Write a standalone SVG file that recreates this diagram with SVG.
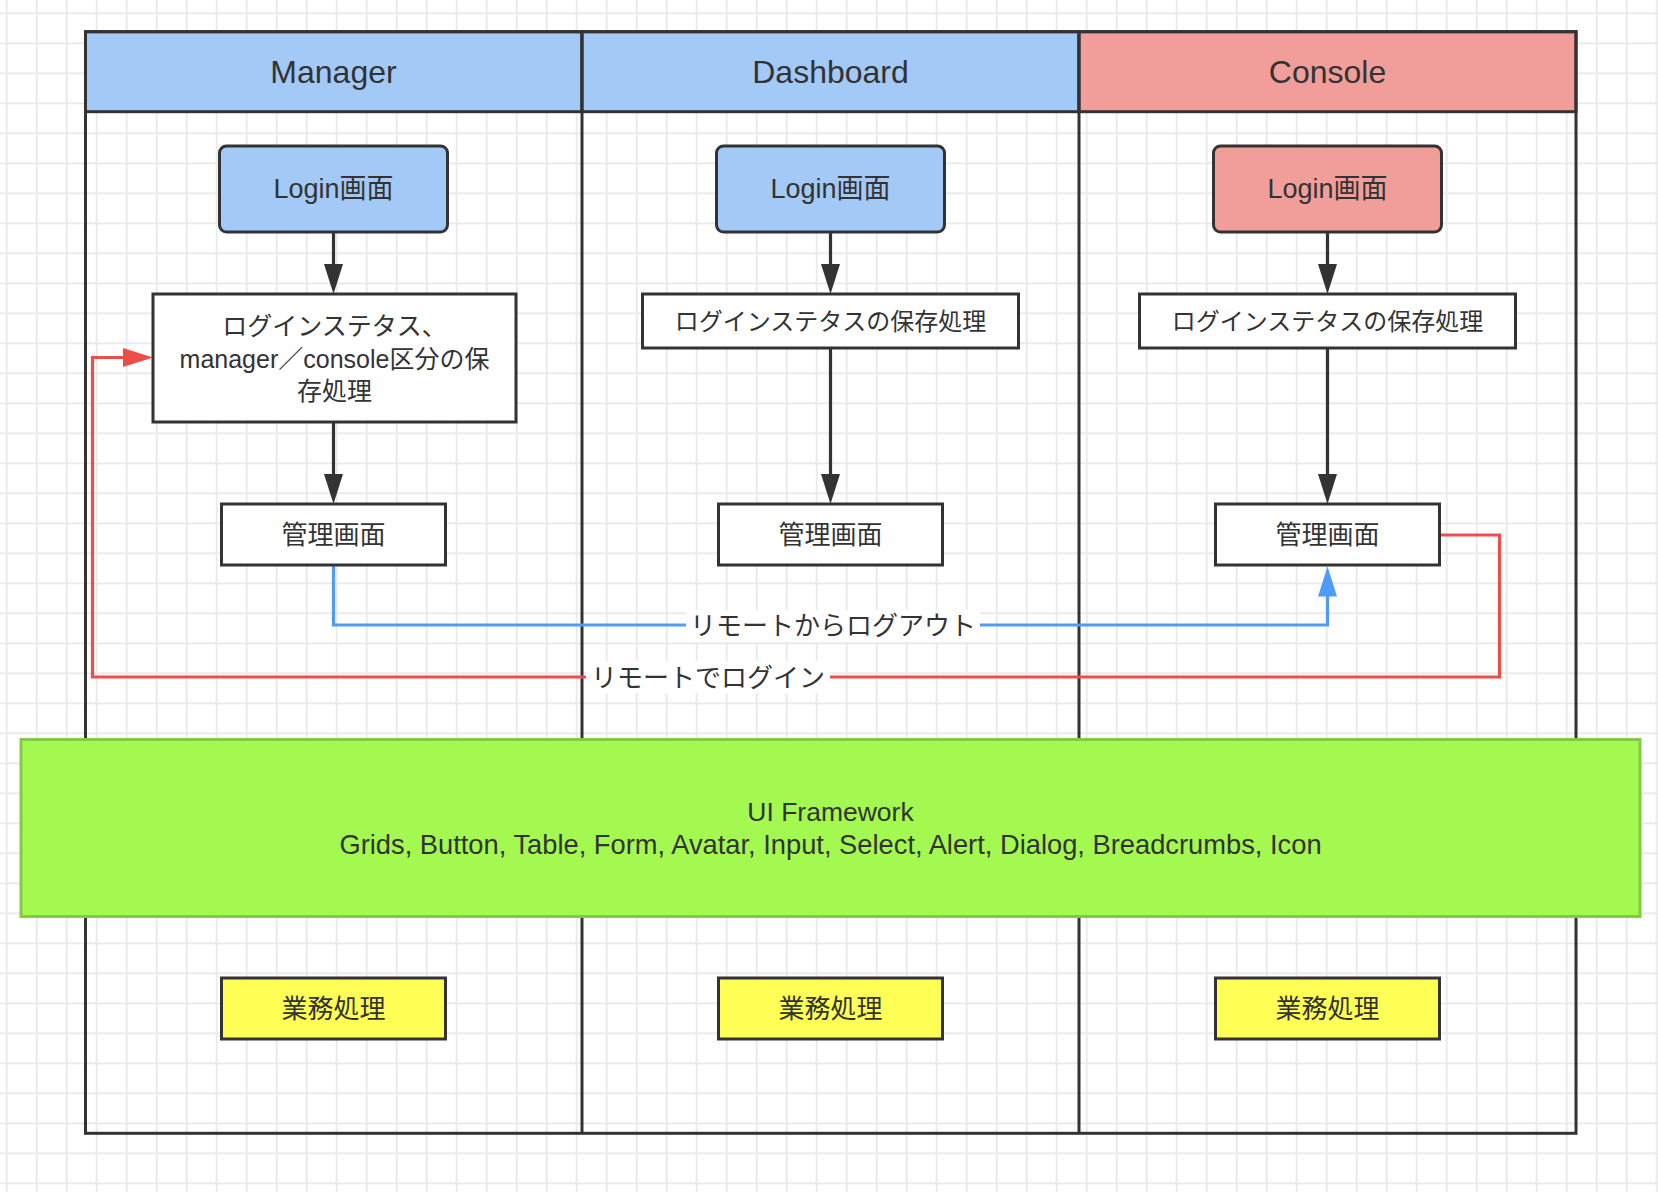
<svg xmlns="http://www.w3.org/2000/svg" width="1658" height="1192" viewBox="0 0 1658 1192">
  <defs>
    <pattern id="grid" x="-8.3" y="-1.7" width="30" height="30" patternUnits="userSpaceOnUse">
      <path d="M15 0 V30 M0 15 H30" stroke="#ebebeb" stroke-width="2" fill="none"/>
    </pattern>
    <marker id="arrDark" viewBox="0 0 30 19" refX="20" refY="9.5" markerWidth="30" markerHeight="19" markerUnits="userSpaceOnUse" orient="auto">
      <path d="M0 0 L30 9.5 L0 19 Z" fill="#333333"/>
    </marker>
    <marker id="arrBlue" viewBox="0 0 30 19" refX="20" refY="9.5" markerWidth="30" markerHeight="19" markerUnits="userSpaceOnUse" orient="auto">
      <path d="M0 0 L30 9.5 L0 19 Z" fill="#4f9bf7"/>
    </marker>
    <marker id="arrRed" viewBox="0 0 30 19" refX="20" refY="9.5" markerWidth="30" markerHeight="19" markerUnits="userSpaceOnUse" orient="auto">
      <path d="M0 0 L30 9.5 L0 19 Z" fill="#ec4f4a"/>
    </marker>
  </defs>
  <style>
    text { font-family: "Liberation Sans", "Noto Sans CJK JP", sans-serif; fill: #333333; text-anchor: middle; dominant-baseline: central; }
    .lane { fill: none; stroke: #333333; stroke-width: 3; }
    .hdr-blue { fill: #a3c9f7; stroke: #333333; stroke-width: 3; }
    .hdr-red { fill: #f19e9b; stroke: #333333; stroke-width: 3; }
    .hdr { font-size: 32px; }
    .login-blue { fill: #a3c9f7; stroke: #333333; stroke-width: 3; }
    .login-red { fill: #f19e9b; stroke: #333333; stroke-width: 3; }
    .box { fill: #ffffff; stroke: #333333; stroke-width: 3; }
    .biz { fill: #ffff55; stroke: #333333; stroke-width: 3; }
    .fw { fill: #a3f94f; stroke: #84c944; stroke-width: 3; }
    .t27 { font-size: 27px; }
    .t26 { font-size: 26px; }
    .t25 { font-size: 25px; }
    .t24 { font-size: 24px; }
    .flow { fill: none; stroke: #333333; stroke-width: 3.2; }
    .blue { fill: none; stroke: #4f9bf7; stroke-width: 3.2; }
    .red { fill: none; stroke: #ec4f4a; stroke-width: 3.2; }
    .lblbg { fill: #ffffff; }
  </style>

  <rect x="0" y="0" width="1658" height="1192" fill="#ffffff"/>
  <rect x="0" y="0" width="1658" height="1192" fill="url(#grid)"/>

  <!-- Swimlane pool -->
  <g id="pool">
    <rect x="85.5" y="31.7" width="496.5" height="80" class="hdr-blue"/>
    <rect x="582" y="31.7" width="497" height="80" class="hdr-blue"/>
    <rect x="1079" y="31.7" width="497" height="80" class="hdr-red"/>
    <rect x="85.5" y="31.7" width="1490.5" height="1101.6" class="lane"/>
    <line x1="582" y1="31.7" x2="582" y2="1133.3" class="lane"/>
    <line x1="1079" y1="31.7" x2="1079" y2="1133.3" class="lane"/>
    <text x="333.5" y="71.7" class="hdr">Manager</text>
    <text x="830.5" y="71.7" class="hdr">Dashboard</text>
    <text x="1327.5" y="71.7" class="hdr">Console</text>
  </g>

  <!-- Connectors -->
  <g id="connectors">
    <line x1="333.5" y1="232" x2="333.5" y2="284" class="flow" marker-end="url(#arrDark)"/>
    <line x1="333.5" y1="422" x2="333.5" y2="494" class="flow" marker-end="url(#arrDark)"/>
    <line x1="830.5" y1="232" x2="830.5" y2="284" class="flow" marker-end="url(#arrDark)"/>
    <line x1="830.5" y1="348" x2="830.5" y2="494" class="flow" marker-end="url(#arrDark)"/>
    <line x1="1327.5" y1="232" x2="1327.5" y2="284" class="flow" marker-end="url(#arrDark)"/>
    <line x1="1327.5" y1="348" x2="1327.5" y2="494" class="flow" marker-end="url(#arrDark)"/>
    <path d="M333.5 566 V625 H1327.5 V576.5" class="blue" marker-end="url(#arrBlue)"/>
    <path d="M1440 535 H1499.5 V677 H92.5 V357.5 H143" class="red" marker-end="url(#arrRed)"/>
    <rect x="686" y="610" width="294" height="32" class="lblbg"/>
    <text x="833" y="626" class="t26">リモートからログアウト</text>
    <rect x="586" y="661" width="244" height="32" class="lblbg"/>
    <text x="708" y="678" class="t26">リモートでログイン</text>
  </g>

  <!-- Manager lane nodes -->
  <g id="mgr-login">
    <rect x="219.5" y="146" width="228" height="86" rx="7" class="login-blue"/>
    <text x="333.5" y="189" class="t27">Login画面</text>
  </g>
  <g id="mgr-save">
    <rect x="153" y="294" width="363" height="128" class="box"/>
    <text x="334.5" y="326" class="t25">ログインステタス、</text>
    <text x="334.5" y="358.5" class="t25">manager／console区分の保</text>
    <text x="334.5" y="391" class="t25">存処理</text>
  </g>
  <g id="mgr-admin">
    <rect x="221.5" y="504" width="224" height="61" class="box"/>
    <text x="333.5" y="534.5" class="t26">管理画面</text>
  </g>
  <g id="mgr-biz">
    <rect x="221.5" y="978" width="224" height="61" class="biz"/>
    <text x="333.5" y="1008.5" class="t26">業務処理</text>
  </g>

  <!-- Dashboard lane nodes -->
  <g id="dash-login">
    <rect x="716.5" y="146" width="228" height="86" rx="7" class="login-blue"/>
    <text x="830.5" y="189" class="t27">Login画面</text>
  </g>
  <g id="dash-save">
    <rect x="642.5" y="294" width="376" height="54" class="box"/>
    <text x="830.5" y="321" class="t24">ログインステタスの保存処理</text>
  </g>
  <g id="dash-admin">
    <rect x="718.5" y="504" width="224" height="61" class="box"/>
    <text x="830.5" y="534.5" class="t26">管理画面</text>
  </g>
  <g id="dash-biz">
    <rect x="718.5" y="978" width="224" height="61" class="biz"/>
    <text x="830.5" y="1008.5" class="t26">業務処理</text>
  </g>

  <!-- Console lane nodes -->
  <g id="con-login">
    <rect x="1213.5" y="146" width="228" height="86" rx="7" class="login-red"/>
    <text x="1327.5" y="189" class="t27">Login画面</text>
  </g>
  <g id="con-save">
    <rect x="1139.5" y="294" width="376" height="54" class="box"/>
    <text x="1327.5" y="321" class="t24">ログインステタスの保存処理</text>
  </g>
  <g id="con-admin">
    <rect x="1215.5" y="504" width="224" height="61" class="box"/>
    <text x="1327.5" y="534.5" class="t26">管理画面</text>
  </g>
  <g id="con-biz">
    <rect x="1215.5" y="978" width="224" height="61" class="biz"/>
    <text x="1327.5" y="1008.5" class="t26">業務処理</text>
  </g>

  <!-- UI Framework band -->
  <g id="ui-framework">
    <rect x="21" y="739.5" width="1619" height="177" class="fw"/>
    <text x="830.5" y="812" style="font-size:26.5px">UI Framework</text>
    <text x="830.5" y="844" style="font-size:27.3px">Grids, Button, Table, Form, Avatar, Input, Select, Alert, Dialog, Breadcrumbs, Icon</text>
  </g>
</svg>
